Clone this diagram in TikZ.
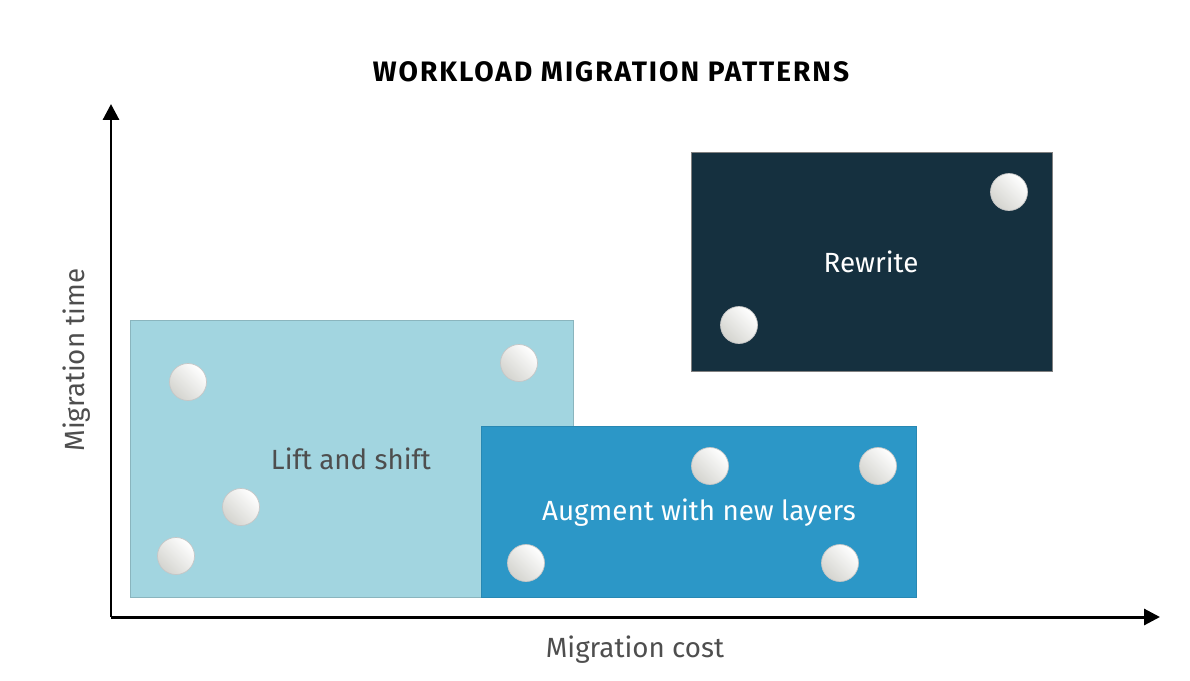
\documentclass[tikz,border=0pt]{standalone}
\usepackage{fontspec}
\setmainfont{Fira Sans}
\usetikzlibrary{arrows.meta,positioning}
\definecolor{liftblue}{RGB}{162,213,224}
\definecolor{augblue}{RGB}{44,151,199}
\definecolor{rewritenavy}{RGB}{21,48,63}
\definecolor{labelgray}{RGB}{78,78,78}
\definecolor{ballgray}{RGB}{212,212,207}

\begin{document}
\begin{tikzpicture}[
        x=0.02cm,y=-0.02cm,
        axis/.style={draw,line width=1.7pt,-{Triangle[width=9pt,length=9pt]}},
        zone/.style={draw,line width=0.4pt},
        ball/.style={circle,minimum size=0.74cm,inner sep=0pt,
                     draw=gray!45,line width=0.4pt,
                     left color=white,right color=ballgray,shading angle=-45},
        zonelabel/.style={font=\fontsize{15.8}{18}\selectfont},
        axislabel/.style={font=\fontsize{15.8}{18}\selectfont,text=labelgray}
      ]
        \useasboundingbox (0,0) rectangle (1190,680);
        % title
        \node[font=\fontsize{16}{19}\selectfont\bfseries\addfontfeature{LetterSpace=7}]
          (title) at (611,72) {WORKLOAD MIGRATION PATTERNS};
        % zones
        \draw[zone,fill=liftblue,draw=liftblue!85!black] (130,320) rectangle (573,597);
        \draw[zone,fill=augblue,draw=augblue!90!black] (481,426) rectangle (916,597);
        \draw[zone,fill=rewritenavy,draw=gray] (691,152) rectangle (1052,371);
        \node[zonelabel,text=labelgray] (lift) at (351,459){Lift and shift};
        \node[zonelabel,text=white] (augment) at (699,513){Augment with new layers};
        \node[zonelabel,text=white] (rewrite) at (871,262){Rewrite};
        % workloads
        \node[ball] (l1) at (188,382){};
        \node[ball] (l2) at (519,363){};
        \node[ball] (l3) at (241,507){};
        \node[ball] (l4) at (176,556){};
        \node[ball] (a1) at (710,466){};
        \node[ball] (a2) at (878,466){};
        \node[ball] (a3) at (526,563){};
        \node[ball] (a4) at (840,563){};
        \node[ball] (r1) at (1009,192){};
        \node[ball] (r2) at (739,325){};
        % axes
        \coordinate (origin) at (111,617);
        \coordinate (ytip) at (111,104);
        \coordinate (xtip) at (1160,617);
        \draw[axis] (origin) -- (ytip);
        \draw[axis] (origin) -- (xtip);
        \node[axislabel,rotate=90] (ylab) at (77,360){Migration time};
        \node[axislabel] (xlab) at (635,650){Migration cost};
      \end{tikzpicture}
\end{document}
